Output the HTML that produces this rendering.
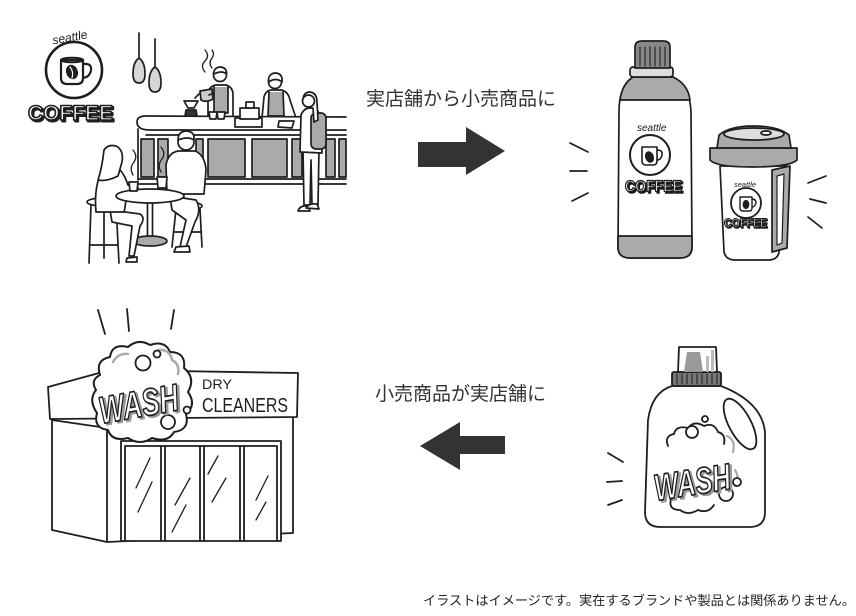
<!DOCTYPE html>
<html><head><meta charset="utf-8"><style>
html,body{margin:0;padding:0;background:#fff;width:856px;height:616px;overflow:hidden}
svg{display:block}
</style></head><body>
<svg width="856" height="616" viewBox="0 0 856 616" xmlns="http://www.w3.org/2000/svg">
<rect width="856" height="616" fill="#fff"/>

<!-- ===== Cafe scene ===== -->
<g fill="none" stroke="#1e1e1e" stroke-width="1.7" stroke-linecap="round" stroke-linejoin="round">
  <!-- logo -->
  <text x="52" y="41" font-family="Liberation Sans, sans-serif" font-size="12" fill="#1e1e1e" stroke="none" font-style="italic" transform="rotate(-10 72 36)">seattle</text>
  <circle cx="74" cy="70" r="28" stroke-width="2.6"/>
  <path d="M61 60 L61 78 Q61 84 67 84 L77 84 Q83 84 83 78 L83 60 Z" stroke-width="2.2" fill="#fff"/>
  <ellipse cx="72" cy="60" rx="11" ry="2.3" stroke-width="2"/>
  <path d="M83 64 Q92 63 91 70 Q90 77 83 78" stroke-width="2.2"/>
  <ellipse cx="72" cy="72" rx="5" ry="6.5" fill="#1e1e1e" transform="rotate(-20 72 72)"/>
  <path d="M70 67 Q74 72 72 78" stroke="#fff" stroke-width="1.2"/>
  <text x="29.5" y="121.5" font-family="Liberation Sans, sans-serif" font-size="21" font-weight="bold" fill="#1e1e1e" stroke="#1e1e1e" stroke-width="2" textLength="85" lengthAdjust="spacingAndGlyphs">COFFEE</text>
  <text x="28" y="120" font-family="Liberation Sans, sans-serif" font-size="21" font-weight="bold" fill="#fff" stroke="#1e1e1e" stroke-width="1.6" textLength="85" lengthAdjust="spacingAndGlyphs">COFFEE</text>

  <!-- lamps -->
  <line x1="139" y1="33" x2="139" y2="59"/>
  <path d="M139 58 Q133 62 133 74 Q133 83 139 83 Q145 83 145 74 Q145 62 139 58Z" fill="#d6d6d6"/>
  <line x1="155" y1="39" x2="155" y2="68"/>
  <path d="M155 67 Q149 71 149 83 Q149 92 155 92 Q161 92 161 83 Q161 71 155 67Z" fill="#d6d6d6"/>

  <!-- baristas behind counter -->
  <path d="M208 116 L208 94 Q209 86 216 85 L226 85 Q233 87 233 95 L233 116" fill="#fff"/>
  <path d="M214 87 L214 113 L228 113 L228 87" fill="#aaa"/>
  <circle cx="220" cy="75" r="6.5" fill="#fff"/>
  <path d="M213.5 74 Q214 67 221 67 Q227 68 226.5 74 Q222 70 214 74Z" fill="#fff"/>
  <path d="M200 91 L212 89 L213 99 Q206 103 201 100 Z" fill="#ccc"/>
  <path d="M200 93 L195 98"/>
  <path d="M209 95 L214 93"/>
  <path d="M205 72 Q200 66 205 61 Q210 56 205 50" stroke-width="1.3"/>
  <path d="M212 68 Q208 63 212 58 Q215 54 212 50" stroke-width="1.3"/>
  <path d="M184 101 L198 101 L194 108 L188 108Z" fill="#fff"/>
  <path d="M186 110 L196 110 L198 122 Q191 126 184 122Z" fill="#333"/>

  <path d="M262 118 L264 97 Q266 90 272 90 L281 90 Q288 91 290 100 L296 118" fill="#fff"/>
  <path d="M269 92 L268 116 L284 116 L283 92" fill="#aaa"/>
  <circle cx="275" cy="82" r="6.5" fill="#fff"/>
  <path d="M268.5 82 Q268 73 276 73 Q283 74 282 82 Q276 77 268.5 82Z" fill="#fff"/>

  <!-- counter -->
  <path d="M346 117 L146 116 Q137 116 137 122 Q137 130 150 130 L346 130" fill="#fff"/>
  <line x1="146" y1="135" x2="346" y2="135"/>
  <g fill="#aaa">
    <rect x="141" y="139" width="13" height="38"/>
    <rect x="158" y="139" width="10" height="38"/>
    <rect x="196" y="139" width="7" height="38"/>
    <rect x="208" y="139" width="37" height="38"/>
    <rect x="252" y="139" width="35" height="38"/>
    <rect x="292" y="139" width="10" height="38"/>
    <rect x="326" y="139" width="9" height="38"/>
    <rect x="339" y="139" width="7" height="38"/>
  </g>
  <line x1="138" y1="129" x2="138" y2="180"/>
  <line x1="138" y1="179" x2="346" y2="179"/>
  <line x1="138" y1="184" x2="346" y2="184"/>

  <!-- items on counter -->
  <path d="M209 112 L210 119 L216 119 L217 112Z" fill="#fff"/>
  <path d="M217 112 L218 119 L224 119 L225 112Z" fill="#fff"/>
  <rect x="235" y="118" width="27" height="9" fill="#fff"/>
  <rect x="240" y="108" width="19" height="11" fill="#fff"/>
  <rect x="246" y="102" width="8" height="6" fill="#fff"/>
  <path d="M279 121 L294 121 L292 128 L278 127Z" fill="#fff"/>

  <!-- customer with backpack -->
  <path d="M303 150 L304 205 L310 205 L311 160 L312 205 L318 205 L319 150Z" fill="#fff"/>
  <path d="M298 211 Q300 205 308 206 L310 211Z" fill="#fff"/>
  <path d="M306 208 Q309 203 317 204 L319 209Z" fill="#fff"/>
  <path d="M300 152 L301 115 Q304 108 310 108 Q318 108 320 116 L322 153Z" fill="#fff"/>
  <rect x="311" y="113" width="15" height="36" rx="5" fill="#aaa"/>
  <path d="M303 101 Q303 92 310 92 Q317 93 317 102 L318 120 L314 122 L313 108" fill="#fff"/>
  <circle cx="308.5" cy="101" r="6" fill="#fff"/>

  <!-- woman stool -->
  <ellipse cx="103" cy="202" rx="16" ry="4" fill="#fff"/>
  <path d="M91 205 L89 263 M116 205 L119 263 M104 206 L104 258 M90 245 L118 245"/>
  <!-- table -->
  <rect x="147.5" y="202" width="5" height="37" fill="#fff"/>
  <ellipse cx="150" cy="241" rx="17" ry="5" fill="#aaa"/>
  <!-- woman -->
  <path d="M110 210 L140 214 Q146 218 140 226 L134 256 L129 256 L132 226 L112 222Z" fill="#fff"/>
  <path d="M96 212 Q94 190 100 175 Q106 165 115 166 Q123 170 128 185 L138 188 L136 194 L126 193 Q126 205 124 212Z" fill="#fff"/>
  <path d="M104 150 Q108 144 116 146 Q124 150 122 162 L118 176 Q106 182 98 180 Q102 168 104 150Z" fill="#fff"/>
  <path d="M127 258 L137 257 L137 262 L126 262Z" fill="#fff"/>
  <!-- man stool -->
  <ellipse cx="188" cy="206" rx="14" ry="4" fill="#fff"/>
  <path d="M176 209 L172 247 M200 209 L202 247 M175 232 L201 232"/>
  <!-- man -->
  <path d="M167 194 L166 165 Q168 153 178 151 L195 151 Q205 155 206 170 L204 194Z" fill="#fff"/>
  <path d="M170 196 L196 200 Q202 210 195 222 L186 247 L180 247 L186 220 L172 210Z" fill="#fff"/>
  <path d="M176 247 L189 246 L190 252 L174 252Z" fill="#fff"/>
  <circle cx="186" cy="142" r="8" fill="#fff"/>
  <path d="M178 140 Q178 131 187 131 Q195 132 194 140 Q188 136 178 140Z" fill="#fff"/>
  <!-- table top + cups -->
  <ellipse cx="150" cy="196" rx="34" ry="7" fill="#fff"/>
  <path d="M129 182 L130 191 L137 191 L138 182Z" fill="#fff"/>
  <path d="M157 177 L158 188 L166 188 L167 177Z" fill="#fff"/>
  <path d="M133 175 Q129 168 134 162 Q138 156 133 150" stroke-width="1.3"/>
  <path d="M161 172 Q157 165 162 159 Q166 153 161 147" stroke-width="1.3"/>
</g>

<!-- ===== Bottle & cup ===== -->
<g fill="none" stroke="#1e1e1e" stroke-width="1.7" stroke-linecap="round" stroke-linejoin="round">
  <path d="M633 77 Q619 86 619 112 L618 247 Q618 258 630 258 L680 258 Q692 258 692 247 L691 112 Q690 86 673 77 Z" fill="#fff"/>
  <path d="M633 77 Q622 84 620 100 L690 100 Q688 84 673 77Z" fill="#aaa"/>
  <path d="M618 236 L692 236 L692 247 Q692 258 680 258 L630 258 Q618 258 618 247Z" fill="#aaa"/>
  <rect x="630" y="67" width="43" height="10" rx="3" fill="#ddd"/>
  <path d="M635 68 L635 47 Q635 41 642 41 L663 41 Q670 41 670 47 L670 68Z" fill="#888"/>
  <path d="M640 47 L640 66 M645 47 L645 66 M650 47 L650 66 M655 47 L655 66 M660 47 L660 66 M665 47 L665 66" stroke-width="1.1"/>
  <text x="637" y="131" font-family="Liberation Sans, sans-serif" font-size="10" font-style="italic" fill="#1e1e1e" stroke="none">seattle</text>
  <circle cx="650" cy="155" r="20" stroke-width="2"/>
  <path d="M642 147 L642 161 Q642 165 646 165 L653 165 Q657 165 657 161 L657 147Z" stroke-width="1.6"/>
  <path d="M657 150 Q663 150 662 155 Q661 160 657 160" stroke-width="1.6"/>
  <ellipse cx="649.5" cy="157" rx="3.5" ry="5" fill="#1e1e1e" transform="rotate(-20 649.5 157)"/>
  <text x="626.5" y="193" font-family="Liberation Sans, sans-serif" font-size="16" font-weight="bold" fill="#1e1e1e" stroke="#1e1e1e" stroke-width="1.6" textLength="57" lengthAdjust="spacingAndGlyphs">COFFEE</text>
  <text x="625" y="191.5" font-family="Liberation Sans, sans-serif" font-size="16" font-weight="bold" fill="#fff" stroke="#1e1e1e" stroke-width="1.3" textLength="57" lengthAdjust="spacingAndGlyphs">COFFEE</text>
  <path d="M570 143 L588 152 M570 171 L587 171 M572 201 L588 193"/>

  <!-- cup -->
  <path d="M720 166 L724 252 Q726 260 735 260 L770 260 Q778 259 779 252 L787 166Z" fill="#fff"/>
  <path d="M772 170 L790 166 L787 248 L772 252Z" fill="#aaa"/>
  <path d="M777 176 L784 174 L782 243 L777 245Z" fill="#fff" stroke-width="1.2"/>
  <path d="M710 148 L797 148 L797 160 Q790 167 752 167 Q716 167 710 160Z" fill="#aaa"/>
  <path d="M717 148 L719 135 Q730 126 753 126 Q778 126 789 135 L791 148Z" fill="#aaa"/>
  <ellipse cx="754" cy="134" rx="30" ry="6" fill="#ddd"/>
  <ellipse cx="766" cy="133" rx="5" ry="2" fill="#fff"/>
  <text x="734" y="187" font-family="Liberation Sans, sans-serif" font-size="7.5" font-style="italic" fill="#1e1e1e" stroke="none">seattle</text>
  <circle cx="746" cy="203" r="15" stroke-width="1.8"/>
  <path d="M740 197 L740 208 Q740 211 743 211 L749 211 Q752 211 752 208 L752 197Z" stroke-width="1.4"/>
  <path d="M752 199 Q756 199 756 203 Q755 207 752 207" stroke-width="1.4"/>
  <ellipse cx="746" cy="204.5" rx="2.5" ry="3.8" fill="#1e1e1e"/>
  <text x="725" y="228" font-family="Liberation Sans, sans-serif" font-size="12" font-weight="bold" fill="#1e1e1e" stroke="#1e1e1e" stroke-width="1.4" textLength="43" lengthAdjust="spacingAndGlyphs">COFFEE</text>
  <text x="724" y="227" font-family="Liberation Sans, sans-serif" font-size="12" font-weight="bold" fill="#fff" stroke="#1e1e1e" stroke-width="1.1" textLength="43" lengthAdjust="spacingAndGlyphs">COFFEE</text>
  <path d="M808 183 L826 176 M810 199 L826 203 M808 217 L822 228"/>
</g>

<!-- ===== Store ===== -->
<g fill="none" stroke="#1e1e1e" stroke-width="1.8" stroke-linecap="round" stroke-linejoin="round">
  <path d="M98 310 L105 334 M127 309 L129 331 M174 310 L171 329"/>
  <path d="M52 420 L52 530 L107 542 L293 533 L293 418" fill="#fff"/>
  <line x1="107" y1="428" x2="107" y2="542"/>
  <line x1="52" y1="420" x2="107" y2="428"/>
  <path d="M48 387 L110 370 L298 373 L297 417 L50 419 Z" fill="#fff"/>
  <rect x="121" y="441" width="160" height="100" fill="#fff"/>
  <path d="M125 446 L277 446 M125 446 L125 541 M277 446 L277 541"/>
  <path d="M161 446 L161 541 M165 446 L165 541 M200 446 L200 541 M204 446 L204 541 M240 446 L240 541 M244 446 L244 541"/>
  <path d="M150 458 L136 488 M152 482 L138 512 M190 478 L175 505 M186 505 L172 532 M218 456 L208 474 M226 478 L212 502 M268 476 L256 500 M266 502 L256 520" stroke-width="1.3"/>
  <!-- cloud -->
  <path d="M100 375 Q95 360 110 357 Q112 343 128 347 Q138 338 150 345 Q165 340 170 352 Q186 352 184 368 Q196 378 188 392 Q197 405 186 414 Q190 430 174 432 Q168 443 152 438 Q140 446 128 438 Q112 442 108 430 Q93 428 97 413 Q88 400 96 390 Q90 380 100 375Z" fill="#fff" stroke-width="2"/>
  <path d="M113 362 Q118 353 128 354 M158 350 Q170 349 172 360 Q180 364 178 374" stroke="#aaa" stroke-width="2.5"/>
  <circle cx="143" cy="363" r="7.5" fill="#fff"/>
  <circle cx="157" cy="354" r="3.5" fill="#fff"/>
  <circle cx="168" cy="422" r="7" fill="#fff"/>
  <circle cx="187" cy="410" r="3.5" fill="#fff"/>
  <g transform="rotate(-10 138 400)">
    <text x="100" y="419" font-family="Liberation Sans, sans-serif" font-size="38" font-weight="bold" font-style="italic" fill="#999" stroke="#999" stroke-width="2" textLength="80" lengthAdjust="spacingAndGlyphs">WASH</text>
    <text x="98" y="417" font-family="Liberation Sans, sans-serif" font-size="38" font-weight="bold" font-style="italic" fill="#fff" stroke="#1e1e1e" stroke-width="1.7" textLength="80" lengthAdjust="spacingAndGlyphs">WASH</text>
  </g>
  <text x="202" y="389" font-family="Liberation Sans, sans-serif" font-size="14" fill="#1e1e1e" stroke="none" textLength="30" lengthAdjust="spacingAndGlyphs">DRY</text>
  <text x="202" y="412" font-family="Liberation Sans, sans-serif" font-size="20" fill="#1e1e1e" stroke="none" textLength="86" lengthAdjust="spacingAndGlyphs">CLEANERS</text>
</g>

<!-- ===== Detergent ===== -->
<g fill="none" stroke="#1e1e1e" stroke-width="1.8" stroke-linecap="round" stroke-linejoin="round">
  <path d="M672 386 Q652 392 648 420 L645 512 Q645 527 660 527 L750 527 Q765 527 765 512 L765 432 Q762 402 721 386Z" fill="#fff"/>
  <rect x="672" y="372" width="49" height="14" rx="2" fill="#777"/>
  <path d="M677 374 L677 384 M682 374 L682 384 M687 374 L687 384 M692 374 L692 384 M697 374 L697 384 M702 374 L702 384 M707 374 L707 384 M712 374 L712 384 M717 374 L717 384" stroke-width="1"/>
  <path d="M678 372 L679 347 L716 347 L717 372Z" fill="#fff"/>
  <path d="M684 372 L687 352 L700 352 L703 372Z" fill="#999" stroke="none"/>
  <rect x="706" y="356" width="3" height="16" fill="#bbb" stroke="none"/>
  <rect x="711" y="350" width="3" height="22" fill="#bbb" stroke="none"/>
  <ellipse cx="740" cy="424" rx="11" ry="28" transform="rotate(-28 740 424)" fill="#fff"/>
  <path d="M668 446 Q664 436 674 434 Q676 425 688 428 Q694 420 704 426 Q714 422 718 432 Q726 434 724 444" fill="#fff"/>
  <path d="M671 499 Q668 510 680 510 Q688 516 698 510 Q708 514 714 505" fill="#fff"/>
  <path d="M727 436 Q736 440 733 452 M735 470 Q740 478 735 486" stroke="#aaa" stroke-width="2.2"/>
  <circle cx="692" cy="432" r="6" fill="#fff"/>
  <circle cx="705" cy="419" r="3" fill="#fff"/>
  <circle cx="737" cy="482" r="4" fill="#fff"/>
  <circle cx="726" cy="494" r="7" fill="#fff"/>
  <g transform="rotate(-9 691 477)">
    <text x="655" y="497" font-family="Liberation Sans, sans-serif" font-size="37" font-weight="bold" font-style="italic" fill="#999" stroke="#999" stroke-width="2" textLength="77" lengthAdjust="spacingAndGlyphs">WASH</text>
    <text x="653" y="495" font-family="Liberation Sans, sans-serif" font-size="37" font-weight="bold" font-style="italic" fill="#fff" stroke="#1e1e1e" stroke-width="1.7" textLength="77" lengthAdjust="spacingAndGlyphs">WASH</text>
  </g>
  <path d="M608 453 L623 462 M607 482 L622 481 M608 505 L622 500"/>
</g>

<!-- ===== Arrows & labels ===== -->
<polygon points="418,142 466,142 466,127 505,151 466,175 466,167 418,167" fill="#333"/>
<polygon points="505,436 460,436 460,422 420,446 460,470 460,454 505,454" fill="#333"/>
<text x="366" y="105" font-family="Liberation Sans, 'Noto Sans CJK JP', sans-serif" font-size="19" fill="#333" textLength="190" lengthAdjust="spacingAndGlyphs">実店舗から小売商品に</text>
<text x="375" y="400" font-family="Liberation Sans, 'Noto Sans CJK JP', sans-serif" font-size="19" fill="#333" textLength="171" lengthAdjust="spacingAndGlyphs">小売商品が実店舗に</text>
<text x="423" y="605" font-family="Liberation Sans, 'Noto Sans CJK JP', sans-serif" font-size="13" fill="#222" textLength="432" lengthAdjust="spacingAndGlyphs">イラストはイメージです。実在するブランドや製品とは関係ありません。</text>
</svg>
</body></html>
